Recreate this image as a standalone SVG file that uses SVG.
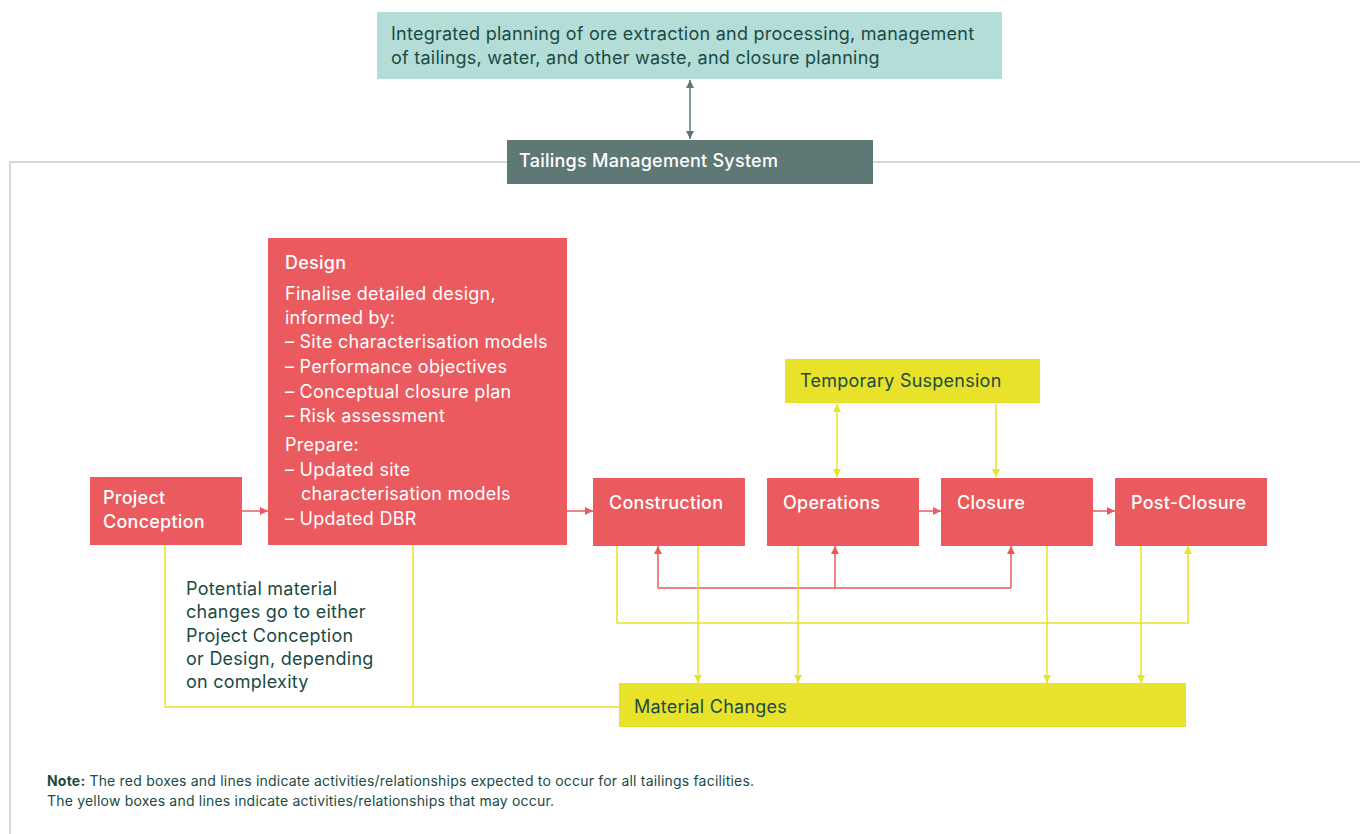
<svg xmlns="http://www.w3.org/2000/svg" width="1360" height="834" viewBox="0 0 1360 834">
<style>
text{font-family:Inter,"Noto Sans","Liberation Sans",sans-serif;font-size:18px;letter-spacing:0.25px}
.w{fill:#ffffff}
.wb{fill:#ffffff;font-weight:500}
.d{fill:#1b4a44}
.n{fill:#1b4a44;font-size:14px;letter-spacing:0.2px}
.red{fill:#eb5a5e}
.yel{fill:#e8e22a}
.lr{stroke:#eb5a5e;stroke-width:1.5;fill:none}
.ly{stroke:#e8e22a;stroke-width:1.5;fill:none}
.lg{stroke:#5e7876;stroke-width:1.5;fill:none}
</style>
<defs>
<marker id="ar" viewBox="0 0 10 10" refX="10" refY="5" markerWidth="8" markerHeight="14" markerUnits="userSpaceOnUse" orient="auto-start-reverse"><path d="M0,0 L10,5 L0,10 Z" fill="#eb5a5e"/></marker>
<marker id="ay" viewBox="0 0 10 10" refX="10" refY="5" markerWidth="8" markerHeight="14" markerUnits="userSpaceOnUse" orient="auto-start-reverse"><path d="M0,0 L10,5 L0,10 Z" fill="#e8e22a"/></marker>
<marker id="ag" viewBox="0 0 10 10" refX="10" refY="5" markerWidth="8" markerHeight="13" markerUnits="userSpaceOnUse" orient="auto-start-reverse"><path d="M0,0 L10,5 L0,10 Z" fill="#5e7876"/></marker>
</defs>
<rect width="1360" height="834" fill="#ffffff"/>
<g id="frame">
<path d="M10,834 L10,162 L507,162 M873,162 L1360,162" stroke="#c5cecd" stroke-width="1.5" fill="none"/>
</g>
<g id="connectors">
<line class="lg" x1="690" y1="80" x2="690" y2="139" marker-start="url(#ag)" marker-end="url(#ag)"/>
<line class="lr" x1="242" y1="511" x2="268" y2="511" marker-end="url(#ar)"/>
<line class="lr" x1="567" y1="511" x2="593" y2="511" marker-end="url(#ar)"/>
<line class="lr" x1="918" y1="511" x2="941" y2="511" marker-end="url(#ar)"/>
<line class="lr" x1="1092" y1="511" x2="1115" y2="511" marker-end="url(#ar)"/>
<path class="lr" d="M658,588 L1011,588"/>
<line class="lr" x1="658" y1="588" x2="658" y2="546" marker-end="url(#ar)"/>
<line class="lr" x1="835" y1="588" x2="835" y2="546" marker-end="url(#ar)"/>
<line class="lr" x1="1011" y1="588" x2="1011" y2="546" marker-end="url(#ar)"/>
<line class="ly" x1="837" y1="404" x2="837" y2="477" marker-start="url(#ay)" marker-end="url(#ay)"/>
<line class="ly" x1="996" y1="404" x2="996" y2="477" marker-end="url(#ay)"/>
<path class="ly" d="M617,546 L617,623 L1188,623 L1188,546" marker-end="url(#ay)"/>
<line class="ly" x1="698" y1="546" x2="698" y2="683" marker-end="url(#ay)"/>
<line class="ly" x1="798" y1="546" x2="798" y2="683" marker-end="url(#ay)"/>
<line class="ly" x1="1047" y1="546" x2="1047" y2="683" marker-end="url(#ay)"/>
<line class="ly" x1="1141" y1="546" x2="1141" y2="683" marker-end="url(#ay)"/>
<path class="ly" d="M165,545 L165,707 L619,707 M413,545 L413,707"/>
</g>
<g id="integrated-planning">
<rect x="377" y="12" width="625" height="67" fill="#b3ddd6"/>
<text class="d" x="391" y="40">Integrated planning of ore extraction and processing, management</text>
<text class="d" x="391" y="64">of tailings, water, and other waste, and closure planning</text>
</g>
<g id="tms">
<rect x="507" y="140" width="366" height="44" fill="#5e7876"/>
<text class="wb" x="519" y="167">Tailings Management System</text>
</g>
<g id="project-conception">
<rect class="red" x="90" y="477" width="152" height="68"/>
<text class="wb" x="103" y="504">Project</text>
<text class="wb" x="103" y="528">Conception</text>
</g>
<g id="design">
<rect class="red" x="268" y="238" width="299" height="307"/>
<text class="wb" x="285" y="269">Design</text>
<text class="w" x="285" y="300">Finalise detailed design,</text>
<text class="w" x="285" y="324">informed by:</text>
<text class="w" x="285" y="348">– Site characterisation models</text>
<text class="w" x="285" y="373">– Performance objectives</text>
<text class="w" x="285" y="398">– Conceptual closure plan</text>
<text class="w" x="285" y="422">– Risk assessment</text>
<text class="w" x="285" y="451">Prepare:</text>
<text class="w" x="285" y="476">– Updated site</text>
<text class="w" x="301" y="500">characterisation models</text>
<text class="w" x="285" y="525">– Updated DBR</text>
</g>
<g id="construction">
<rect class="red" x="593" y="478" width="152" height="68"/>
<text class="wb" x="609" y="509">Construction</text>
</g>
<g id="operations">
<rect class="red" x="767" y="478" width="152" height="68"/>
<text class="wb" x="783" y="509">Operations</text>
</g>
<g id="closure">
<rect class="red" x="941" y="478" width="152" height="68"/>
<text class="wb" x="957" y="509">Closure</text>
</g>
<g id="post-closure">
<rect class="red" x="1115" y="478" width="152" height="68"/>
<text class="wb" x="1131" y="509">Post-Closure</text>
</g>
<g id="temporary-suspension">
<rect class="yel" x="785" y="359" width="255" height="44"/>
<text class="d" x="800" y="387">Temporary Suspension</text>
</g>
<g id="material-changes">
<rect class="yel" x="619" y="683" width="567" height="44"/>
<text class="d" x="634" y="713">Material Changes</text>
</g>
<g id="note-potential">
<text class="d" x="186" y="595">Potential material</text>
<text class="d" x="186" y="618">changes go to either</text>
<text class="d" x="186" y="642">Project Conception</text>
<text class="d" x="186" y="665">or Design, depending</text>
<text class="d" x="186" y="688">on complexity</text>
</g>
<g id="legend-note">
<text class="n" x="47" y="786"><tspan font-weight="700">Note:</tspan> The red boxes and lines indicate activities/relationships expected to occur for all tailings facilities.</text>
<text class="n" x="47" y="806">The yellow boxes and lines indicate activities/relationships that may occur.</text>
</g>
</svg>
